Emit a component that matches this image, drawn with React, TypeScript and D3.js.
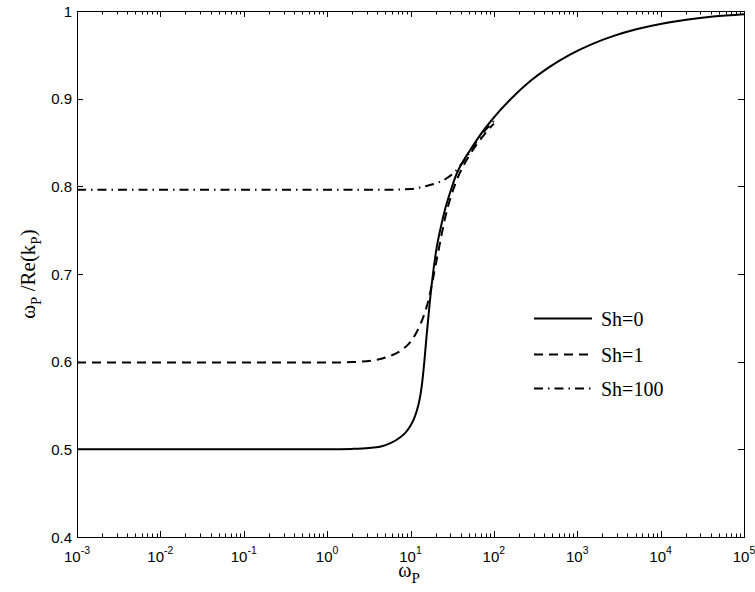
import React from "react";
import * as d3 from "d3";

// log10(omega_P) and omega_P/Re(k_P)
const sh0X = [-3, -2, -1, 0, 0.3, 0.5, 0.634, 0.76, 0.874, 0.94, 0.994, 1.04, 1.074, 1.104, 1.134, 1.164, 1.194, 1.234, 1.274, 1.314, 1.364, 1.414, 1.484, 1.554, 1.634, 1.714, 1.85, 1.993, 2.2, 2.433, 2.65, 2.913, 3.17, 3.429, 3.72, 4.028, 4.33, 4.628, 5];
const sh0Y = [0.5, 0.5, 0.5, 0.5, 0.5005, 0.5015, 0.503, 0.507, 0.5135, 0.519, 0.526, 0.5345, 0.5435, 0.5545, 0.5715, 0.598, 0.6305, 0.6703, 0.7035, 0.73, 0.7535, 0.7735, 0.7955, 0.8145, 0.829, 0.8412, 0.8605, 0.8778, 0.8993, 0.9198, 0.9352, 0.9503, 0.962, 0.9713, 0.9794, 0.9858, 0.9904, 0.9937, 0.9964];

const sh1X = [-3, -2, -1, 0, 0.3, 0.55, 0.754, 0.85, 0.91, 0.97, 1.014, 1.07, 1.114, 1.17, 1.21, 1.254, 1.33, 1.414, 1.554, 1.634, 1.714, 1.894, 2.0];
const sh1Y = [0.599, 0.599, 0.599, 0.599, 0.5995, 0.6015, 0.6065, 0.6105, 0.6145, 0.6195, 0.6245, 0.633, 0.6415, 0.6555, 0.668, 0.687, 0.724, 0.7635, 0.807, 0.8235, 0.8365, 0.86, 0.8715];

const sh100X = [-3, -2, -1, 0, 0.634, 1.0, 1.234, 1.35, 1.434, 1.534, 1.674, 1.834, 2.0];
const sh100Y = [0.796, 0.796, 0.796, 0.796, 0.796, 0.797, 0.8015, 0.805, 0.8092, 0.8167, 0.8338, 0.8566, 0.8745];

const seriesNames = ["Sh=0", "Sh=1", "Sh=100"];
const yTicks = [0.4, 0.5, 0.6, 0.7, 0.8, 0.9, 1];
const xExps = [-3, -2, -1, 0, 1, 2, 3, 4, 5];

export default function App() {
  const L = 77, R = 744, T = 11, B = 537;
  const x = d3.scaleLog().domain([1e-3, 1e5]).range([L, R]);
  const y = d3.scaleLinear().domain([0.4, 1]).range([B, T]);

  const mk = (xs: number[], ys: number[]) =>
    d3.line<number>()
      .x((_, i) => x(Math.pow(10, xs[i])))
      .y((_, i) => y(ys[i]))
      .curve(d3.curveMonotoneX)(xs) as string;

  const series = [
    { d: mk(sh0X, sh0Y), dash: undefined as string | undefined },
    { d: mk(sh1X, sh1Y), dash: "9,6" },
    { d: mk(sh100X, sh100Y), dash: "9,5,1.5,5" },
  ];

  const minor: number[] = [];
  for (let e = -3; e < 5; e++) for (let m = 2; m <= 9; m++) minor.push(m * Math.pow(10, e));

  const tickFont = "Liberation Sans, Arial, sans-serif";
  const serif = "Liberation Serif, Times New Roman, serif";

  return (
    <svg width={755} height={592} style={{ position: "absolute", left: 0, top: 0, background: "#fff" }}>
      <rect x={0} y={0} width={755} height={592} fill="#fff" />
      {/* curves */}
      <g fill="none" stroke="#000" strokeWidth={2}>
        {series.map((s, i) => (
          <path key={i} d={s.d} strokeDasharray={s.dash} />
        ))}
      </g>
      {/* axes box */}
      <rect x={L + 0.5} y={T + 0.5} width={R - L} height={B - T} fill="none" stroke="#000" strokeWidth={1} />
      {/* ticks */}
      <g stroke="#000" strokeWidth={1}>
        {xExps.map((e) => {
          const px = Math.round(x(Math.pow(10, e))) + 0.5;
          return (
            <g key={"xm" + e}>
              <line x1={px} x2={px} y1={B} y2={B - 6} />
              <line x1={px} x2={px} y1={T} y2={T + 6} />
            </g>
          );
        })}
        {minor.map((v, i) => {
          const px = Math.round(x(v)) + 0.5;
          return (
            <g key={"xn" + i}>
              <line x1={px} x2={px} y1={B} y2={B - 3.5} />
              <line x1={px} x2={px} y1={T} y2={T + 3.5} />
            </g>
          );
        })}
        {yTicks.map((v) => {
          const py = Math.round(y(v)) + 0.5;
          return (
            <g key={"yt" + v}>
              <line x1={L} x2={L + 6} y1={py} y2={py} />
              <line x1={R} x2={R - 6} y1={py} y2={py} />
            </g>
          );
        })}
      </g>
      {/* y tick labels */}
      <g fontFamily={tickFont} fontSize={15} fill="#000" textAnchor="end">
        {yTicks.map((v) => (
          <text key={"yl" + v} x={72} y={y(v) + 5.5}>
            {String(v)}
          </text>
        ))}
      </g>
      {/* x tick labels */}
      <g fontFamily={tickFont} fill="#000" textAnchor="middle">
        {xExps.map((e) => (
          <text key={"xl" + e} x={x(Math.pow(10, e))} y={562} fontSize={15}>
            <tspan>10</tspan>
            <tspan fontSize={10.5} dy={-8.5}>{e < 0 ? "-" + Math.abs(e) : String(e)}</tspan>
          </text>
        ))}
      </g>
      {/* x label */}
      <text x={409} y={577} fontFamily={serif} fontSize={20} textAnchor="middle" fill="#000">
        ω<tspan fontSize={15} dy={6}>P</tspan>
      </text>
      {/* y label */}
      <text transform={`translate(35,${(T + B) / 2}) rotate(-90)`} fontFamily={serif} fontSize={21} textAnchor="middle" fill="#000">
        ω<tspan fontSize={15} dy={6}>P</tspan>
        <tspan dy={-6}> /Re(k</tspan>
        <tspan fontSize={15} dy={6}>P</tspan>
        <tspan dy={-6}>)</tspan>
      </text>
      {/* legend */}
      <g>
        {seriesNames.map((n, i) => {
          const ly = [318.5, 354.5, 388.5][i];
          return (
            <g key={n}>
              <line x1={534} x2={592} y1={ly} y2={ly} stroke="#000" strokeWidth={2} strokeDasharray={series[i].dash} />
              <text x={601} y={ly + 7} fontFamily={serif} fontSize={20} fill="#000">{n}</text>
            </g>
          );
        })}
      </g>
    </svg>
  );
}
